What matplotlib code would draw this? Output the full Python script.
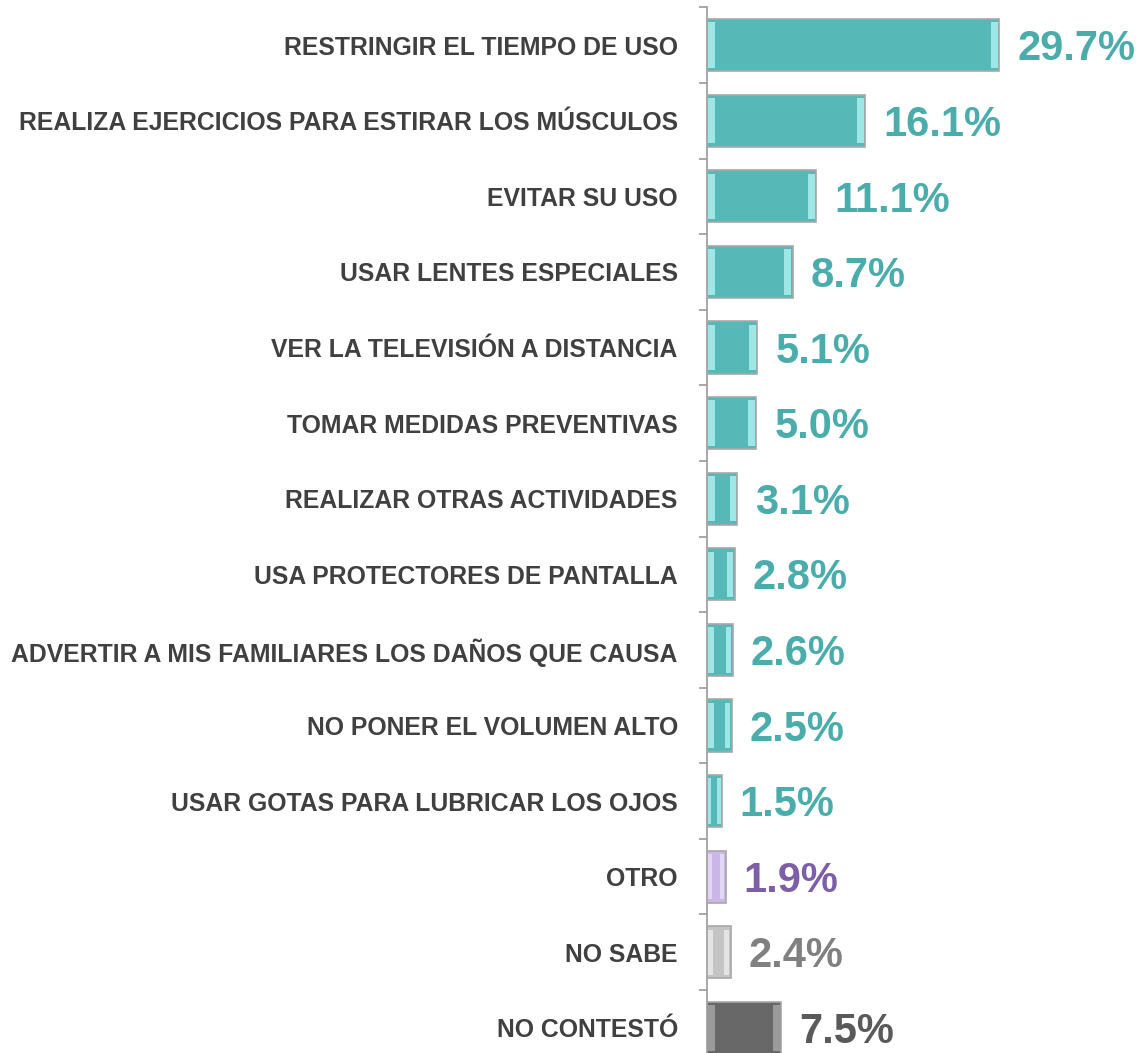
"""Horizontal bar chart: medidas para cuidar la salud al usar pantallas."""

import matplotlib

matplotlib.use("Agg")
import matplotlib.pyplot as plt
import numpy as np

categories = [
    "RESTRINGIR EL TIEMPO DE USO",
    "REALIZA EJERCICIOS PARA ESTIRAR LOS MÚSCULOS",
    "EVITAR SU USO",
    "USAR LENTES ESPECIALES",
    "VER LA TELEVISIÓN A DISTANCIA",
    "TOMAR MEDIDAS PREVENTIVAS",
    "REALIZAR OTRAS ACTIVIDADES",
    "USA PROTECTORES DE PANTALLA",
    "ADVERTIR A MIS FAMILIARES LOS DAÑOS QUE CAUSA",
    "NO PONER EL VOLUMEN ALTO",
    "USAR GOTAS PARA LUBRICAR LOS OJOS",
    "OTRO",
    "NO SABE",
    "NO CONTESTÓ",
]
values = [29.7, 16.1, 11.1, 8.7, 5.1, 5.0, 3.1, 2.8, 2.6, 2.5, 1.5, 1.9, 2.4, 7.5]

TEAL_BAR, TEAL_TXT = "#57b8b8", "#4aadab"
bar_colors = [TEAL_BAR] * 11 + ["#cbb6e8", "#c4c4c4", "#686868"]
bevel_colors = ["#9fe6e6"] * 11 + ["#e2d6f4", "#e4e4e4", "#9a9a9a"]
text_colors = [TEAL_TXT] * 11 + ["#7d5fa8", "#808080", "#5a5a5a"]

fig = plt.figure(figsize=(11.4, 10.53), dpi=100)
ax = fig.add_axes([707 / 1140, -0.012, 1 - 707 / 1140, 1.005])

y = np.arange(len(categories))
vals = np.array(values)
ax.barh(y, vals, height=0.69, color=bar_colors, edgecolor="#a8a8a8",
        linewidth=1.2, zorder=3)

# light bevel strips at both ends of each bar
strip = np.minimum(0.7, vals * 0.22)
ax.barh(y, strip, left=0.12, height=0.6, color=bevel_colors, linewidth=0, zorder=4)
ax.barh(y, strip, left=vals - strip - 0.12, height=0.6, color=bevel_colors,
        linewidth=0, zorder=4)

for yi, v, c in zip(y, values, text_colors):
    ax.annotate(f"{v:.1f}%", xy=(v, yi), xytext=(13, -3), textcoords="offset points",
                ha="left", va="center", fontsize=30, fontweight="bold",
                family="Liberation Sans", color=c)

ax.set_xlim(0, (1140 - 707) / 9.83)
ax.set_ylim(len(categories) - 0.5, -0.5)

ax.set_yticks(y)
ax.set_yticklabels(categories, fontsize=17.8, fontweight="bold",
                   family="Liberation Sans", color="#404040")
ax.tick_params(axis="y", length=0, pad=21)
ax.set_yticks(np.arange(len(categories) + 1) - 0.5, minor=True)
ax.tick_params(axis="y", which="minor", length=6, width=1.2, color="#999999")
ax.set_xticks([])

for side in ["top", "right", "bottom"]:
    ax.spines[side].set_visible(False)
ax.spines["left"].set_color("#999999")
ax.spines["left"].set_linewidth(1.2)

fig.savefig("out.png", dpi=100)
